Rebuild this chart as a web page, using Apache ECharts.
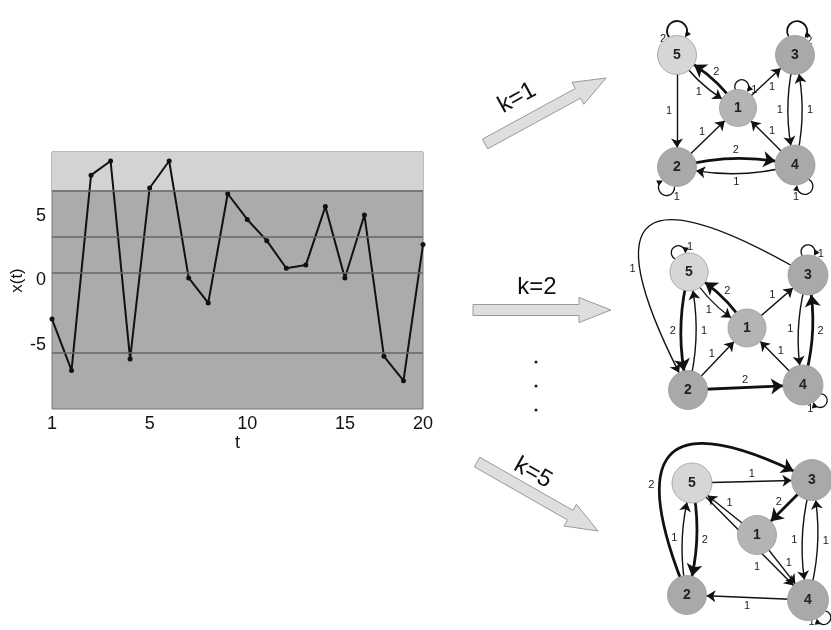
<!DOCTYPE html>
<html><head><meta charset="utf-8">
<script src="https://cdn.jsdelivr.net/npm/echarts@6/dist/echarts.min.js"></script>
<style>html,body{margin:0;padding:0;background:#fff}#c{width:831px;height:630px}</style>
</head><body><div id="c"></div>
<script>
// ---------------- DATA ----------------
const tLabels = ['1','','','','','5','','','','','10','','','','','15','','','','20'];
const xValues = [-3.0, -7.0, 8.2, 9.3, -6.1, 7.2, 9.3, 0.2, -1.75, 6.75, 4.75, 3.1, 0.95, 1.2, 5.75, 0.2, 5.1, -5.9, -7.8, 2.8];
const thresholds = [-5.65, 0.6, 3.4, 7.0];
const yRange = [-10, 10];
const kLabels = ['k=1', 'k=2', 'k=5'];
const nodeNames = ['1', '2', '3', '4', '5'];
const nodeShades = ['#b4b4b4', '#a9a9a9', '#a9a9a9', '#a9a9a9', '#d6d6d6'];
// edges: [source, target, weight]
const edgesK1 = [['5','5',2],['3','3',2],['1','1',1],['5','1',1],['1','5',2],['1','3',1],['5','2',1],['2','1',1],['4','1',1],['3','4',1],['4','3',1],['2','4',2],['4','2',1],['2','2',1],['4','4',1]];
const edgesK2 = [['5','5',1],['3','3',1],['3','2',1],['5','2',2],['2','5',1],['5','1',1],['1','5',2],['1','3',1],['2','1',1],['2','4',2],['4','1',1],['3','4',1],['4','3',2],['4','4',1]];
const edgesK5 = [['2','3',2],['5','3',1],['3','1',2],['1','5',1],['2','5',1],['5','2',2],['5','4',1],['1','4',1],['3','4',1],['4','3',1],['4','2',1],['4','4',1]];

// ---------------- LAYOUT / STYLE (diagram geometry, not data) ----------------
const layoutK1 = [[738,108],[677,167],[795,55],[795,165],[677,55]];
const layoutK2 = [[747,328],[688,390],[808,275],[803,385],[689,272]];
const layoutK5 = [[757,535],[687,595],[812,480],[808,600],[692,483]];
const sizeK1 = [37, 39, 39, 40, 39];
const sizeK2 = [38, 39, 40, 40, 38];
const sizeK5 = [39, 39, 41, 41, 40];
const PC = 0.13; // curveness used to separate opposite parallel edges
// per edge: [curveness, label side (+1 / -1 relative to edge normal), label position along edge, label offset]
const styleK1 = {'5-1':[-PC,-1],'1-5':[-PC,-1],'1-3':[0,-1],'5-2':[0,-1],'2-1':[0,1],'4-1':[0,-1],'3-4':[-PC,-1],'4-3':[-PC,-1],'2-4':[PC,1],'4-2':[PC,1]};
const styleK2 = {'3-2':[-1.75,1,0.72],'5-2':[-PC,-1],'2-5':[-PC,-1],'5-1':[-PC,-1],'1-5':[-PC,-1],'1-3':[0,1],'2-1':[0,1],'2-4':[0,1],'4-1':[0,-1],'3-4':[-PC,-1],'4-3':[-PC,-1]};
const styleK5 = {'2-3':[1.35,1,0.3],'5-3':[0,1],'3-1':[0,-1],'1-5':[0,-1],'2-5':[PC,1],'5-2':[PC,1],'5-4':[0,-1,0.64,13],'1-4':[0,1],'3-4':[-PC,-1],'4-3':[-PC,-1],'4-2':[0,1]};
// self loops: node -> [direction deg, loop radius, label angle deg]
const loopK1 = {'5':[-90,10,150],'3':[-85,10,40],'1':[-80,7,15],'2':[117,8,42],'4':[65,8,130]};
const loopK2 = {'5':[-119,7,-25],'3':[-90,7,10],'4':[42,7,140]};
const loopK5 = {'4':[48,7,160]};

const FONT = 'Liberation Sans';

function buildDiagram(layout, sizes, edges, style, loops) {
  const pos = {}, rad = {};
  nodeNames.forEach((n, i) => { pos[n] = layout[i]; rad[n] = sizes[i] / 2; });
  const nodes = nodeNames.map((n, i) => ({
    name: n, value: layout[i], symbolSize: sizes[i],
    itemStyle: { color: nodeShades[i], borderColor: '#9c9c9c', borderWidth: 0.8 }
  }));
  const links = [], labels = [], loopItems = [];
  edges.forEach(e => {
    const key = e[0] + '-' + e[1];
    if (e[0] === e[1]) {
      const l = loops[e[0]];
      loopItems.push([pos[e[0]][0], pos[e[0]][1], rad[e[0]], l[0], l[1], l[2], e[2]]);
      return;
    }
    const st = style[key] || [0, 1];
    const c = st[0], side = st[1], t = st[2] === undefined ? 0.5 : st[2], dist = st[3] === undefined ? 8 : st[3];
    links.push({
      source: e[0], target: e[1], value: e[2], symbolSize: e[2] > 1 ? 12 : 9,
      lineStyle: { width: e[2] > 1 ? 2.8 : 1.4, curveness: c, color: '#111', opacity: 1 }
    });
    const p1 = pos[e[0]], p2 = pos[e[1]];
    const mx = (p1[0] + p2[0]) / 2, my = (p1[1] + p2[1]) / 2;
    const cp = [mx + c * (p2[1] - p1[1]), my + c * (p1[0] - p2[0])];
    const u = 1 - t;
    const B = [u * u * p1[0] + 2 * t * u * cp[0] + t * t * p2[0], u * u * p1[1] + 2 * t * u * cp[1] + t * t * p2[1]];
    let n;
    if (Math.abs(c) > 0.5) {
      const L = Math.hypot(B[0] - mx, B[1] - my);
      n = [(B[0] - mx) / L, (B[1] - my) / L];
      labels.push([B[0] + n[0] * 9, B[1] + n[1] * 9, e[2]]);
    } else {
      const L = Math.hypot(p2[0] - p1[0], p2[1] - p1[1]);
      n = [(p2[1] - p1[1]) / L, (p1[0] - p2[0]) / L];
      labels.push([B[0] + n[0] * side * dist, B[1] + n[1] * side * dist, e[2]]);
    }
  });
  return [
    {
      type: 'graph', coordinateSystem: 'cartesian2d', xAxisIndex: 1, yAxisIndex: 1,
      data: nodes, links: links, z: 5,
      edgeSymbol: ['none', 'arrow'],
      label: { show: true, position: 'inside', fontSize: 14, fontWeight: 'bold', color: '#222', fontFamily: FONT, formatter: p => p.name },
      edgeLabel: { show: false },
      emphasis: { disabled: true }
    },
    {
      type: 'custom', coordinateSystem: 'cartesian2d', xAxisIndex: 1, yAxisIndex: 1, z: 6, silent: true,
      data: labels,
      renderItem: (params, api) => {
        const p = api.coord([api.value(0), api.value(1)]);
        return { type: 'text', x: p[0], y: p[1],
          style: { text: String(api.value(2)), font: '11px "' + FONT + '"', fill: '#222', align: 'center', verticalAlign: 'middle' } };
      }
    },
    {
      type: 'custom', coordinateSystem: 'cartesian2d', xAxisIndex: 1, yAxisIndex: 1, z: 4, silent: true,
      data: loopItems,
      renderItem: (params, api) => {
        const N = api.coord([api.value(0), api.value(1)]);
        const R = api.value(2), dir = api.value(3) * Math.PI / 180, r = api.value(4);
        const la = api.value(5) * Math.PI / 180, w = api.value(6);
        const d = R + 0.45 * r;
        const C = [N[0] + Math.cos(dir) * d, N[1] + Math.sin(dir) * d];
        const phi = dir + Math.PI;
        const alpha = Math.acos(Math.max(-1, Math.min(1, (d * d + r * r - R * R) / (2 * d * r))));
        const sa = phi + alpha, ea = phi + 2 * Math.PI - alpha;
        const E = [C[0] + r * Math.cos(ea), C[1] + r * Math.sin(ea)];
        const tg = [-Math.sin(ea), Math.cos(ea)];
        const q = [tg[1], -tg[0]];
        const hl = 6, hw = 3;
        const head = [E, [E[0] - tg[0] * hl + q[0] * hw, E[1] - tg[1] * hl + q[1] * hw], [E[0] - tg[0] * hl - q[0] * hw, E[1] - tg[1] * hl - q[1] * hw]];
        return { type: 'group', children: [
          { type: 'arc', shape: { cx: C[0], cy: C[1], r: r, startAngle: sa, endAngle: ea - 0.25, clockwise: true },
            style: { stroke: '#111', lineWidth: w > 1 ? 1.8 : 1.3, fill: 'none' } },
          { type: 'polygon', shape: { points: head }, style: { fill: '#111' } },
          { type: 'text', x: C[0] + Math.cos(la) * (r + 6), y: C[1] + Math.sin(la) * (r + 6),
            style: { text: String(w), font: '11px "' + FONT + '"', fill: '#222', align: 'center', verticalAlign: 'middle' } }
        ] };
      }
    }
  ];
}

// block arrow polygon from tail to tip
function blockArrow(tail, tip, shaftW, headW, headL) {
  const dx = tip[0] - tail[0], dy = tip[1] - tail[1];
  const L = Math.hypot(dx, dy), ux = dx / L, uy = dy / L, px = -uy, py = ux;
  const b = [tip[0] - ux * headL, tip[1] - uy * headL];
  const p = (base, off) => [base[0] + px * off, base[1] + py * off];
  return [p(tail, shaftW / 2), p(b, shaftW / 2), p(b, headW / 2), tip, p(b, -headW / 2), p(b, -shaftW / 2), p(tail, -shaftW / 2)];
}
const arrowDefs = [
  { tail: [485,144], tip: [606,78], text: [517,98], rot: 0.50 },
  { tail: [473,310], tip: [611,310], text: [537,287], rot: 0 },
  { tail: [477,462], tip: [598,531], text: [533,473], rot: -0.51 }
];
const graphics = [];
arrowDefs.forEach((a, i) => {
  graphics.push({ type: 'polygon', shape: { points: blockArrow(a.tail, a.tip, 11, 25, 32) },
    style: { fill: '#dedede', stroke: '#9a9a9a', lineWidth: 1 }, z: 10 });
  graphics.push({ type: 'text', x: a.text[0], y: a.text[1], rotation: a.rot,
    style: { text: kLabels[i], font: '24px "' + FONT + '"', fill: '#111', align: 'center', verticalAlign: 'middle' }, z: 10 });
});
[362, 386, 410].forEach(y => graphics.push({ type: 'circle', shape: { cx: 536, cy: y, r: 1.6 }, style: { fill: '#222' }, z: 10 }));

const chart = echarts.init(document.getElementById('c'), null, { renderer: 'canvas' });
chart.setOption({
  animation: false,
  backgroundColor: '#fff',
  graphic: graphics,
  grid: [
    { left: 52, top: 152, width: 371, height: 257, show: true, backgroundColor: '#ababab', borderColor: '#777', borderWidth: 1 },
    { left: 0, top: 0, width: 831, height: 630, show: false }
  ],
  xAxis: [
    { type: 'category', data: tLabels, boundaryGap: false, gridIndex: 0,
      name: 't', nameLocation: 'middle', nameGap: 24,
      nameTextStyle: { fontSize: 18, color: '#111', fontFamily: FONT },
      axisLine: { show: false }, axisTick: { show: false }, splitLine: { show: false },
      axisLabel: { interval: 0, fontSize: 18, color: '#111', margin: 6, fontFamily: FONT } },
    { type: 'value', gridIndex: 1, min: 0, max: 831, show: false }
  ],
  yAxis: [
    { type: 'value', gridIndex: 0, min: yRange[0], max: yRange[1], interval: 5,
      name: 'x(t)', nameLocation: 'middle', nameGap: 25, nameRotate: 90,
      nameTextStyle: { fontSize: 17, color: '#111', fontFamily: FONT },
      axisLine: { show: false }, axisTick: { show: false }, splitLine: { show: false },
      axisLabel: { showMinLabel: false, showMaxLabel: false, fontSize: 18, color: '#111', margin: 6, fontFamily: FONT } },
    { type: 'value', gridIndex: 1, min: 0, max: 630, inverse: true, show: false }
  ],
  series: [
    { type: 'line', xAxisIndex: 0, yAxisIndex: 0, data: xValues,
      symbol: 'circle', symbolSize: 5, itemStyle: { color: '#111' },
      lineStyle: { color: '#111', width: 2 }, z: 3,
      markArea: { silent: true, itemStyle: { color: '#d3d3d3' }, data: [[{ yAxis: thresholds[3] }, { yAxis: yRange[1] }]] },
      markLine: { silent: true, symbol: 'none', label: { show: false },
        lineStyle: { color: '#666', width: 1.5, type: 'solid' },
        data: thresholds.map(v => ({ yAxis: v })) } }
  ].concat(
    buildDiagram(layoutK1, sizeK1, edgesK1, styleK1, loopK1),
    buildDiagram(layoutK2, sizeK2, edgesK2, styleK2, loopK2),
    buildDiagram(layoutK5, sizeK5, edgesK5, styleK5, loopK5)
  )
});
</script></body></html>
